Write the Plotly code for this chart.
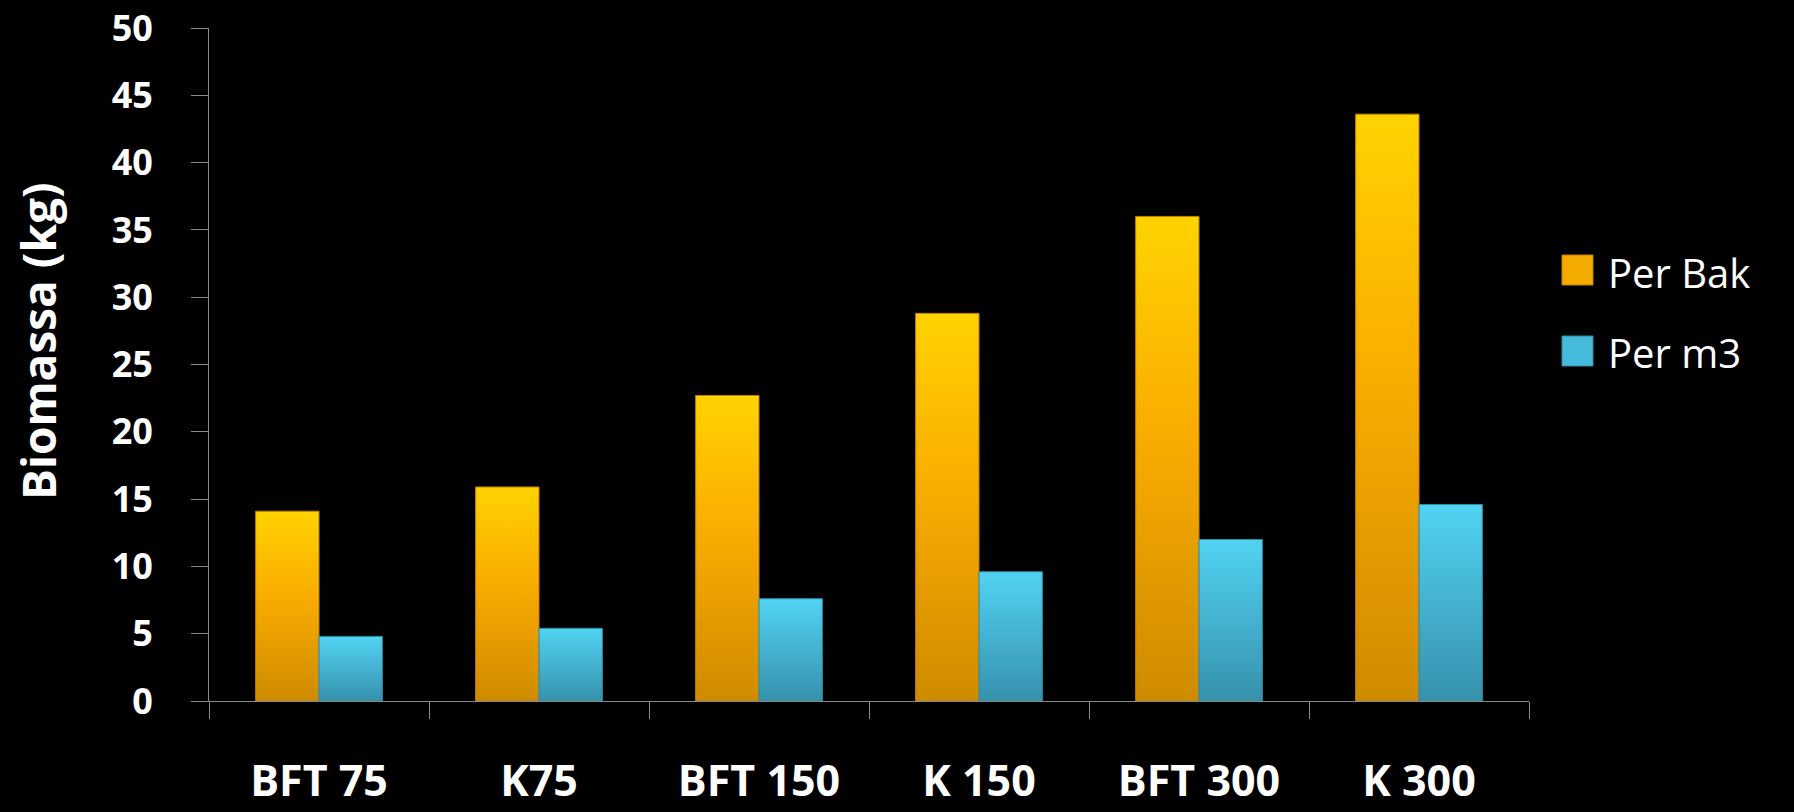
import plotly.graph_objects as go

# Biomass per tank and per cubic metre for each treatment
categories = ["BFT 75", "K75", "BFT 150", "K 150", "BFT 300", "K 300"]
per_bak = [14.1, 15.9, 22.7, 28.8, 36.0, 43.6]
per_m3 = [4.8, 5.4, 7.6, 9.6, 12.0, 14.6]
series_names = ["Per Bak", "Per m3"]
y_ticks = [0, 5, 10, 15, 20, 25, 30, 35, 40, 45, 50]

W, H = 1794, 812
ML, MR, MT, MB = 209, 265, 28, 111
PW, PH = W - ML - MR, H - MT - MB

BAR_W = 0.288
FONT = "Open Sans"
AXIS_GREY = "#8a8a8a"

styles = [
    dict(scale=[[0, "#CF8B00"], [0.55, "#F9AC00"], [1, "#FFD300"]],
         edge="#C08000", offset=-BAR_W, swatch="#F4AB00"),
    dict(scale=[[0, "#3691AC"], [1, "#52D3F3"]],
         edge="#2F8AA3", offset=0.0, swatch="#45BADB"),
]


def px_x(p):
    return (p - ML) / PW


def px_y(p):
    return (H - MB - p) / PH


fig = go.Figure()

# each bar is a filled rectangle with a vertical colour gradient
for values, st in zip([per_bak, per_m3], styles):
    for i, v in enumerate(values):
        x0 = i + st["offset"]
        x1 = x0 + BAR_W
        fig.add_trace(go.Scatter(
            x=[x0, x1, x1, x0, x0],
            y=[0, 0, v, v, 0],
            mode="lines",
            fill="toself",
            fillgradient=dict(type="vertical", colorscale=st["scale"],
                              start=0, stop=v),
            line=dict(color=st["edge"], width=1),
            showlegend=False,
            hoverinfo="skip",
        ))

# legend drawn as swatches with labels to the right of the plot
legend_rows = [(255, 285), (336, 366)]
shapes = []
annotations = []
for name, st, (top, bot) in zip(series_names, styles, legend_rows):
    shapes.append(dict(
        type="rect", xref="paper", yref="paper",
        x0=px_x(1562), x1=px_x(1593), y0=px_y(bot), y1=px_y(top),
        fillcolor=st["swatch"], line=dict(color=st["edge"], width=1),
    ))
    annotations.append(dict(
        text=name, xref="paper", yref="paper",
        x=px_x(1606), y=px_y((top + bot) / 2 + 2),
        xanchor="left", yanchor="middle", showarrow=False,
        font=dict(family=FONT, size=40, color="white"),
    ))

annotations.append(dict(
    text="<b>Biomassa (kg)</b>", xref="paper", yref="paper",
    x=px_x(38), y=px_y(341), xanchor="center", yanchor="middle",
    textangle=-90, showarrow=False,
    font=dict(family=FONT, size=46, color="white"),
))

fig.update_layout(
    width=W, height=H,
    margin=dict(l=ML, r=MR, t=MT, b=MB, autoexpand=False),
    paper_bgcolor="black", plot_bgcolor="black",
    showlegend=False,
    shapes=shapes,
    annotations=annotations,
    xaxis=dict(
        range=[-0.5, len(categories) - 0.5],
        tickvals=list(range(len(categories))),
        ticktext=["<b>%s</b>" % c for c in categories],
        ticks="",
        ticklabelstandoff=42,
        ticklabeloverflow="allow",
        tickfont=dict(family=FONT, size=43, color="white"),
        showgrid=False, zeroline=False,
        showline=True, linecolor=AXIS_GREY, linewidth=1,
        minor=dict(tickvals=[i - 0.5 for i in range(len(categories) + 1)],
                   ticks="outside", ticklen=17, tickcolor=AXIS_GREY,
                   tickwidth=1, showgrid=False),
    ),
    yaxis=dict(
        range=[0, 50],
        tickvals=y_ticks,
        ticktext=["<b>%d</b>" % t for t in y_ticks],
        ticks="outside", ticklen=17, tickcolor=AXIS_GREY, tickwidth=1,
        ticklabelstandoff=31,
        ticklabeloverflow="allow",
        tickfont=dict(family=FONT, size=36, color="white"),
        showgrid=False, zeroline=False,
        showline=True, linecolor=AXIS_GREY, linewidth=1,
    ),
)

fig.write_html("out.html")
